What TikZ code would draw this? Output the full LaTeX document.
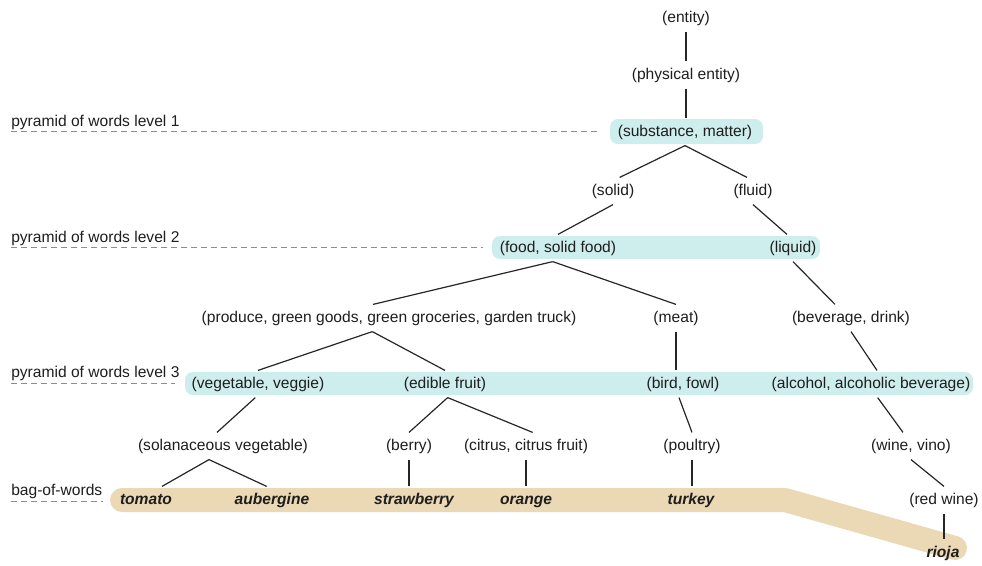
\documentclass[tikz,border=0pt]{standalone}
\usepackage{fontspec}
\setmainfont{Liberation Sans}
\definecolor{bandblue}{RGB}{206,237,237}
\definecolor{bandsand}{RGB}{235,216,180}
\definecolor{inkgrey}{RGB}{30,30,30}
\tikzset{
syn node/.style={text=inkgrey,text height=9pt,text depth=3pt,inner xsep=1pt,inner ysep=4pt},
bag node/.style={syn node,font=\fontsize{11.7}{14}\selectfont\bfseries\itshape},
level label/.style={syn node,anchor=west,inner xsep=0pt},
link/.style={line width=0.9pt,draw=black!85},
guide/.style={draw=black!45,line width=0.6pt,dash pattern=on 4.5pt off 3pt},
band/.style={rounded corners=6pt}}

\begin{document}
\begin{tikzpicture}[x=0.75pt,y=-0.75pt,font=\fontsize{11.7}{14}\selectfont]
\useasboundingbox (0,0) rectangle (982,565);

% coloured bands behind the levels
\fill[bandblue,band] (610,119) rectangle (763,144);
\fill[bandblue,band] (492,236) rectangle (820,259);
\fill[bandblue,band] (185,372) rectangle (973,395);
\draw[bandsand,line width=18pt,line cap=round,line join=round]
  (122,500) -- (785,500) -- (955,548);

% level labels
\node[level label] (lv1) at (11,122) {pyramid of words level 1};
\node[level label] (lv2) at (11,238) {pyramid of words level 2};
\node[level label] (lv3) at (11,373) {pyramid of words level 3};
\node[level label] (lvb) at (11,491) {bag-of-words};
\draw[guide] (11,131) -- (600,131);
\draw[guide] (11,247) -- (483,247);
\draw[guide] (11,383) -- (175,383);
\draw[guide] (11,501) -- (103,501);

% synsets
\node[syn node] (entity) at (686,18) {(entity)};
\node[syn node] (phys) at (686,75) {(physical entity)};
\node[syn node] (subst) at (685,132) {(substance, matter)};
\node[syn node] (solid) at (613,191) {(solid)};
\node[syn node] (fluid) at (753,191) {(fluid)};
\node[syn node] (food) at (558,248) {(food, solid food)};
\node[syn node] (liquid) at (793,248) {(liquid)};
\node[syn node] (produce) at (389,318) {(produce, green goods, green groceries, garden truck)};
\node[syn node] (meat) at (676,318) {(meat)};
\node[syn node] (bev) at (851,318) {(beverage, drink)};
\node[syn node] (veg) at (258,384) {(vegetable, veggie)};
\node[syn node] (fruit) at (445,384) {(edible fruit)};
\node[syn node] (bird) at (683,384) {(bird, fowl)};
\node[syn node] (alc) at (871,384) {(alcohol, alcoholic beverage)};
\node[syn node] (solan) at (223,446) {(solanaceous vegetable)};
\node[syn node] (berry) at (409,446) {(berry)};
\node[syn node] (citrus) at (526,446) {(citrus, citrus fruit)};
\node[syn node] (poultry) at (692,446) {(poultry)};
\node[syn node] (wine) at (911,446) {(wine, vino)};
\node[syn node] (redwine) at (944,500) {(red wine)};

% words
\node[bag node] (tomato) at (146,500) {tomato};
\node[bag node] (aubergine) at (272,500) {aubergine};
\node[bag node] (strawberry) at (414,500) {strawberry};
\node[bag node] (orange) at (526,500) {orange};
\node[bag node] (turkey) at (691,500) {turkey};
\node[bag node] (rioja) at (943,553) {rioja};

\draw[link] (entity) -- (phys);
\draw[link] (phys) -- (phys |- subst.north);
\draw[link] (subst.south) -- ([xshift=5pt]solid.north);
\draw[link] (subst.south) -- ([xshift=-4.5pt]fluid.north);
\draw[link] (solid.south) -- (food.north);
\draw[link] (fluid.south) -- ([xshift=-4.5pt]liquid.north);
\draw[link] ([xshift=-4pt]food.south) -- ([xshift=-12pt]produce.north);
\draw[link] ([xshift=-4pt]food.south) -- (meat.north);
\draw[link] (liquid.south) -- ([xshift=-12pt]bev.north);
\draw[link] ([xshift=-12.5pt]produce.south) -- (veg.north);
\draw[link] ([xshift=-12.5pt]produce.south) -- (fruit.north);
\draw[link] (meat) -- (meat |- bird.north);
\draw[link] (bev.south) -- ([xshift=4.5pt]alc.north);
\draw[link] ([xshift=-2pt]veg.south) -- ([xshift=-4.5pt]solan.north);
\draw[link] ([xshift=2pt]fruit.south) -- (berry.north);
\draw[link] ([xshift=2pt]fruit.south) -- ([xshift=5pt]citrus.north);
\draw[link] ([xshift=-3pt]bird.south) -- (poultry.north);
\draw[link] ([xshift=5pt]alc.south) -- ([xshift=-6pt]wine.north);
\draw[link] ([xshift=-10.5pt]solan.south) -- ([xshift=12pt]tomato.north);
\draw[link] ([xshift=-10.5pt]solan.south) -- ([xshift=-4pt]aubergine.north);
\draw[link] (berry) -- (berry |- strawberry.north);
\draw[link] (citrus) -- (orange);
\draw[link] (poultry) -- (poultry |- turkey.north);
\draw[link] (wine.south) -- (redwine.north);
\draw[link] (redwine) -- (redwine |- rioja.north);

\end{tikzpicture}
\end{document}
